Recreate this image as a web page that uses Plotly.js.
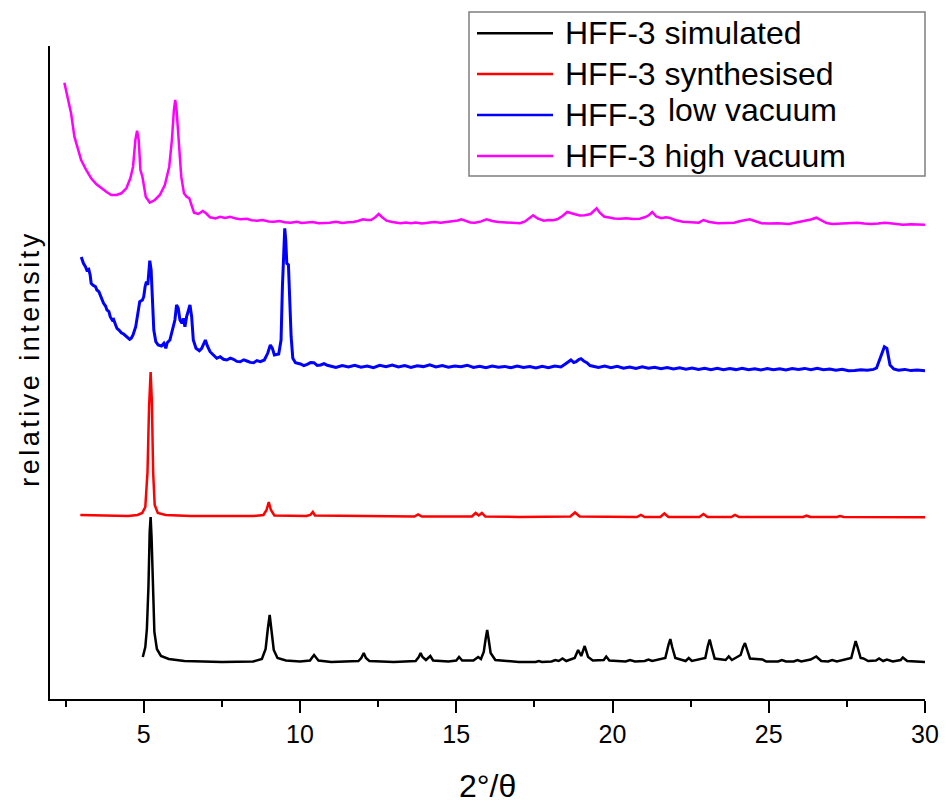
<!DOCTYPE html>
<html>
<head>
<meta charset="utf-8">
<script src="https://cdn.plot.ly/plotly-3.0.1.min.js"></script>
<style>
html,body{margin:0;padding:0;background:#fff;}
#chart{width:946px;height:805px;}
.ytitle{letter-spacing:3.5px;}
</style>
</head>
<body>
<div id="chart"></div>
<script>
// ---- data (2θ in degrees, intensity in arbitrary offset units) ----
const seriesNames = ["HFF-3 simulated", "HFF-3 synthesised", "HFF-3 low vacuum", "HFF-3 high vacuum"];
const seriesColors = ["#000000", "#ff0000", "#0000ff", "#ff00ff"];
const xTickVals = [5, 10, 15, 20, 25, 30];
const xTitle = "2°/θ";
const yTitle = "relative intensity";

const simX = [4.97,5.05,5.10,5.15,5.19,5.22,5.25,5.29,5.34,5.42,5.55,5.8,6.3,7.5,8.5,8.78,8.9,8.97,9.03,9.09,9.16,9.28,9.55,10.0,10.32,10.4,10.45,10.5,10.59,11.0,11.87,11.96,12.04,12.11,12.22,13.0,13.7,13.8,13.86,13.92,14.03,14.17,14.26,14.75,15.0,15.09,15.19,15.55,15.70,15.79,15.88,15.94,15.99,16.04,16.1,16.25,17.0,17.54,17.64,17.74,18.05,18.17,18.28,18.40,18.52,18.79,18.90,19.0,19.11,19.22,19.37,19.72,19.80,19.9,20.42,20.56,20.72,21.03,21.15,21.27,21.69,21.79,21.85,21.91,22.01,22.34,22.44,22.54,22.97,23.05,23.11,23.17,23.27,23.62,23.72,23.82,24.02,24.1,24.18,24.24,24.3,24.4,24.8,24.92,25.3,25.42,25.55,25.8,25.92,26.04,26.34,26.52,26.68,26.9,27.03,27.18,27.64,27.73,27.78,27.84,27.94,28.03,28.18,28.43,28.53,28.66,28.78,28.97,29.22,29.29,29.43,30.0];
const simY = [40,50,68,110,165,180,160,105,65,48,41,38,36,35,35.5,38,48,68,82,66,47,39,36.5,35.5,36.5,40,42,40,36.5,35,36,39,44,39,36,35,36,40,44,40,37,41,36.5,35.5,36.5,40,36.5,36.5,40,38,45,58,67,57,44,37,35,35,36,35,35.5,37,36,38.5,36,39,47,41,51,40,36.5,37,40.5,36.5,35.5,37,35.5,36,37.5,36,39,52,58,50,39,36,39,36,39,51,57.5,50,38.5,37,40.5,37,40,42,50,54,48,38.5,37.5,35.5,35.5,37,35.5,35.5,37,35.5,37.5,40.5,36,35.5,37,35.5,39,52,56,50,39,38.5,36,36.5,38.5,36,37.5,35.5,37,39.5,36,35];

const synX = [2.97,3.5,4.0,4.5,4.8,4.95,5.05,5.12,5.17,5.22,5.26,5.3,5.35,5.45,5.7,6.5,7.5,8.5,8.83,8.93,9.0,9.07,9.18,10.2,10.33,10.41,10.48,11.5,12.5,13.66,13.78,13.9,15.5,15.62,15.72,15.82,15.93,17.0,18.65,18.8,18.95,20.78,20.91,21.03,21.53,21.66,21.79,22.78,22.91,23.04,23.8,23.92,24.05,26.1,26.21,26.33,27.18,27.28,27.4,30.0];
const synY = [182,181.5,181,181,182,184,190,225,290,325,295,225,192,184,182,181,181,181,182,187,195,187,181.5,181,182,185,181.5,181,180.5,180.5,182.5,180.5,180.5,184,181.5,184,180.5,180,180.5,184.5,180.5,180,182,180,180,183.5,180,180,183,180,180,182,180,180,181.3,180,180,181,180,179.7];

const lowX = [3.00,3.07,3.135,3.178,3.24,3.285,3.317,3.37,3.457,3.50,3.564,3.607,3.671,3.714,3.778,3.821,3.885,3.928,3.992,4.035,4.10,4.143,4.207,4.282,4.357,4.421,4.496,4.55,4.60,4.657,4.743,4.818,4.871,4.957,5.0,5.043,5.086,5.129,5.171,5.193,5.236,5.279,5.322,5.386,5.461,5.568,5.643,5.707,5.75,5.836,5.922,5.997,6.05,6.104,6.158,6.222,6.265,6.318,6.372,6.426,6.479,6.533,6.586,6.672,6.779,6.854,6.929,6.972,7.036,7.122,7.229,7.337,7.444,7.551,7.658,7.77,7.872,7.98,8.087,8.2,8.301,8.41,8.516,8.62,8.73,8.859,8.966,9.051,9.116,9.18,9.319,9.394,9.437,9.48,9.512,9.544,9.577,9.63,9.673,9.716,9.77,9.855,10.016,10.12,10.23,10.34,10.445,10.55,10.66,10.77,10.874,
  10.95,11.15,11.35,11.55,11.75,11.95,12.15,12.35,12.55,12.75,12.95,13.15,13.35,13.55,13.75,13.95,14.15,14.35,14.55,14.75,14.95,15.15,15.35,15.55,15.75,15.95,16.15,16.35,16.55,16.75,16.95,17.15,17.35,17.55,17.75,17.95,18.15,18.35,18.49,18.6,18.67,18.76,18.84,18.92,18.99,19.08,19.18,19.28,19.37,19.55,19.75,19.95,20.15,20.35,20.55,20.75,20.95,21.15,21.35,21.55,21.75,21.95,22.15,22.35,22.55,22.75,22.95,23.15,23.35,23.55,23.75,23.95,24.15,24.35,24.55,24.75,24.95,25.15,25.35,25.55,25.75,25.95,26.15,26.35,26.55,26.75,26.95,27.15,27.35,27.55,27.75,27.95,28.15,28.35,28.45,28.56,28.70,28.78,28.88,29.0,29.15,29.35,29.55,29.75,30.0];
const lowY = [440,433.7,430.3,427,427.7,422,413.7,412,410.3,407,405.3,402,397,393.7,391,387,385.3,380.3,377,377.7,372,368.7,367,364.3,363,361,359.7,357.7,358.7,362,370.3,387,395.3,397,400.3,410.3,415.3,412,423.7,436.3,427,393.7,367,355.3,352,351,353.7,348.7,354.3,357,367,377,392,388.7,377,373.7,378.7,370.3,380.3,387,392,380.3,357,348.7,346.3,348.7,355.3,357,351,345.3,342,338.7,340.3,337.7,337,338.8,337.7,335.6,335.3,337.2,336,334.6,334.3,336.4,335.3,337,343.7,352,348.7,342,343,357,410.3,457,468.7,457,433.7,432,393.7,360.3,338.7,334.3,333,331.4,332.7,334.4,334.3,331.6,332,333.4,331.7,
  331,329.5,331.5,330,331.8,329.8,331,329.4,331.6,330.2,332,330,331.4,329.6,331.2,330.4,332.2,330,331.5,329.8,331,330.3,331.8,329.5,330.8,329.2,331,329.8,330.6,329.2,331,329.5,330.4,329,330.6,329.4,331,330,333,335.5,337,334.5,335.3,337.5,338.3,336,334.3,331.5,331,329.6,331,329.4,330.6,328.8,330,328.6,330.2,328.8,329.8,328.2,329.4,328,329.2,327.8,329,327.6,328.8,327.4,328.6,327.2,328.4,327.4,328.8,327.2,328.2,327,328.4,327.2,328.2,327,328.4,327.6,328.6,327.4,328.8,327.2,328,326.8,327.8,326.2,326.6,327.2,326.8,327.6,329,338.3,350.3,348.7,332,328,326.8,327.6,326.4,327,326.3];

const highX = [2.46,2.567,2.674,2.781,2.888,2.996,3.157,3.317,3.478,3.639,3.80,3.96,4.121,4.282,4.443,4.571,4.657,4.732,4.786,4.839,4.893,4.957,5.064,5.193,5.354,5.514,5.675,5.815,5.90,5.965,6.007,6.05,6.115,6.20,6.286,6.372,6.458,6.533,6.608,6.747,6.886,6.994,
  7.122,7.3,7.444,7.6,7.765,7.95,8.087,8.3,8.45,8.623,8.8,9.0,9.159,9.35,9.5,9.695,9.9,10.05,10.23,10.4,10.6,10.77,10.95,11.15,11.35,11.55,11.70,11.85,12.02,12.15,12.27,12.4,12.52,12.62,12.77,12.95,13.1,13.21,13.4,13.55,13.7,13.9,14.09,14.3,14.5,14.72,14.9,15.05,15.16,15.3,15.45,15.60,15.8,15.97,16.15,16.35,16.55,16.75,16.9,17.04,17.2,17.35,17.46,17.6,17.80,17.95,18.1,18.23,18.4,18.55,18.68,18.80,18.95,19.11,19.30,19.4,19.49,19.6,19.74,19.9,20.05,20.24,20.45,20.65,20.87,21.05,21.17,21.27,21.4,21.56,21.7,21.81,22.0,22.25,22.5,22.76,22.91,23.1,23.38,23.6,23.89,24.1,24.25,24.39,24.55,24.77,25.0,25.3,25.64,25.85,26.02,26.2,26.35,26.52,26.7,26.85,27.03,27.3,27.55,27.84,28.05,28.28,28.5,28.72,28.95,29.1,29.29,29.55,29.8,30.0];
const highY = [614.3,600.3,583.7,560.3,548.7,537,527,518.7,513,508.7,505.3,502,502,503.7,508.7,518.7,530.3,557,566.3,557,527,520.3,500.3,494.3,497,502,512,530.3,557,587,597,587,553.7,520.3,503.7,500.3,498.7,490.3,484.3,483,486,483.7,
  479.7,478.5,480.3,479,480.3,478.4,477.7,478.2,476.8,476.3,477,475.6,475.3,476,474.8,474.3,475.2,474,474.3,475,473.8,473.7,474.3,475.2,474,474.8,475,476,477.7,477,477,479.5,483,480,476.3,475,474,473.7,474.6,473.8,474.5,473.6,474.3,475,474.2,475,475.8,476.5,477.7,476,474.6,474.3,475.6,477.7,476,475,474.6,474.2,473.6,473.7,475.5,479,481.7,478.5,476.3,477,476.8,477.7,481,485,483.5,482.7,481.5,481.7,483,486,488.7,484,480.3,479.5,478.6,478.3,478.8,478,478.3,480,482,485,480.5,478.7,479.8,479.3,477,475.3,474.6,474.3,477,475,473.7,474,474.3,476,477.2,477.7,476,473.7,473.4,473.8,473,474.2,475.3,476.6,477.5,479.3,476,474,473,473.4,473.2,474.3,473.4,473,473.4,474.3,473.4,472.8,472.3,472.8,472.2,472.3];

const xs = [simX, synX, lowX, highX];
const ys = [simY, synY, lowY, highY];
const widths = [2.5, 2.5, 3, 2.5];

const traces = xs.map((x, i) => ({
  type: "scatter", mode: "lines", x: x, y: ys[i], name: seriesNames[i],
  line: {color: seriesColors[i], width: widths[i]}, showlegend: false, hoverinfo: "skip"
}));

// ---- custom legend (paper coordinates) ----
const plotL = 50, plotR = 925, plotT = 46, plotB = 699;
const px2x = p => (p - plotL) / (plotR - plotL);
const px2y = q => (plotB - q) / (plotB - plotT);
const rowY = [33.3, 74, 115, 156];
const shapes = [{
  type: "rect", xref: "paper", yref: "paper",
  x0: px2x(469), x1: px2x(925), y0: px2y(176), y1: px2y(12),
  line: {color: "#7f7f7f", width: 1.5}, fillcolor: "rgba(0,0,0,0)"
}];
const annotations = [{
  xref: "paper", yref: "paper", x: 0.5, y: px2y(786), xanchor: "center", yanchor: "middle",
  showarrow: false, text: xTitle, font: {size: 32, color: "#000"}
}];
rowY.forEach((r, i) => {
  shapes.push({type: "line", xref: "paper", yref: "paper",
    x0: px2x(477), x1: px2x(553), y0: px2y(r), y1: px2y(r),
    line: {color: seriesColors[i], width: 2.5}});
  if (i === 2) {
    annotations.push({xref: "paper", yref: "paper", x: px2x(563), y: px2y(r),
      xanchor: "left", yanchor: "middle", showarrow: false, text: "HFF-3",
      font: {size: 32, color: "#000"}});
    annotations.push({xref: "paper", yref: "paper", x: px2x(666), y: px2y(r - 5),
      xanchor: "left", yanchor: "middle", showarrow: false, text: "low vacuum",
      font: {size: 32, color: "#000"}});
  } else {
    annotations.push({xref: "paper", yref: "paper", x: px2x(563), y: px2y(r),
      xanchor: "left", yanchor: "middle", showarrow: false, text: seriesNames[i],
      font: {size: 32, color: "#000"}});
  }
});

const layout = {
  width: 946, height: 805,
  margin: {l: plotL, r: 946 - plotR, t: plotT, b: 805 - plotB},
  paper_bgcolor: "#fff", plot_bgcolor: "#fff",
  font: {family: "Liberation Sans, Arial, sans-serif", color: "#000"},
  showlegend: false,
  xaxis: {
    range: [2.0, 30], showgrid: false, zeroline: false,
    showline: true, linecolor: "#000", linewidth: 2,
    ticks: "outside", ticklen: 12, tickwidth: 2, tickcolor: "#000",
    tickvals: xTickVals, tickfont: {size: 25},
    minor: {dtick: 2.5, tick0: 0, ticks: "outside", ticklen: 6, tickwidth: 2, tickcolor: "#000", showgrid: false},
    automargin: false
  },
  yaxis: {
    range: [-2, 651], showgrid: false, zeroline: false,
    showline: true, linecolor: "#000", linewidth: 2,
    ticks: "", showticklabels: false,
    title: {text: yTitle, font: {size: 27}, standoff: 3},
    automargin: false
  },
  shapes: shapes,
  annotations: annotations
};

Plotly.newPlot("chart", traces, layout, {displayModeBar: false, staticPlot: true}).then(gd => {
  // nudge the y title to its place in the original figure
  const yt = gd.querySelector(".ytitle");
  if (yt) yt.setAttribute("transform", "translate(2,-14) " + (yt.getAttribute("transform") || ""));
});
</script>
</body>
</html>
